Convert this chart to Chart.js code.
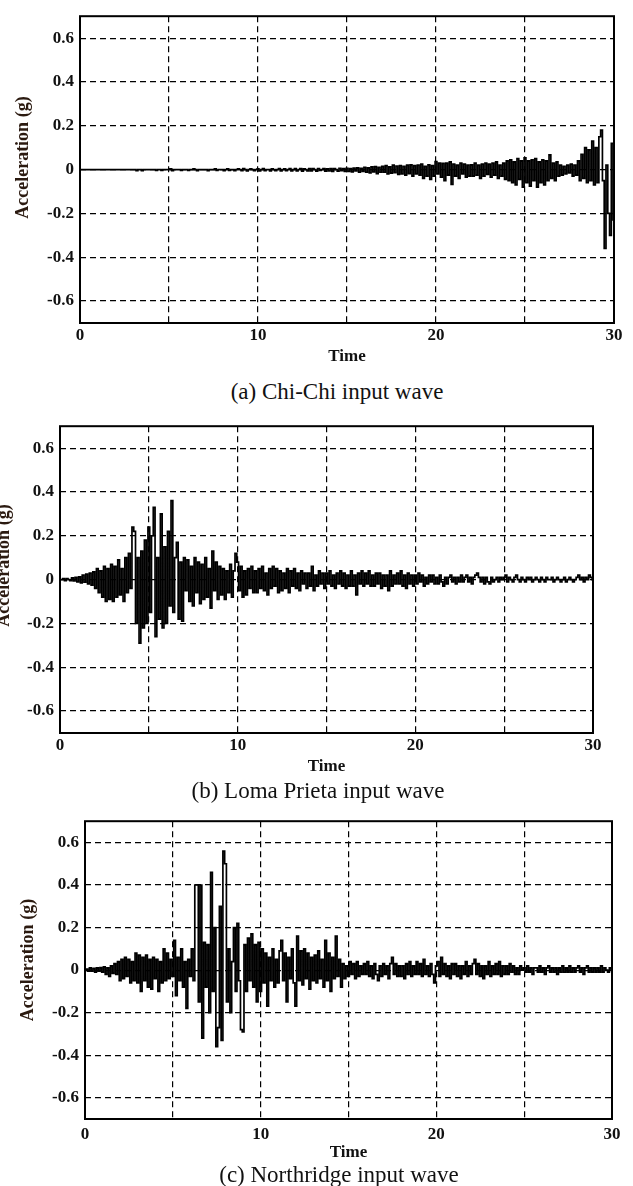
<!DOCTYPE html>
<html>
<head>
<meta charset="utf-8">
<script src="https://cdn.jsdelivr.net/npm/chart.js@4.4.1/dist/chart.umd.min.js"></script>
<style>
  html, body { margin: 0; padding: 0; background: #fff; }
  body { position: relative; width: 633px; height: 1186px; overflow: hidden; }
  canvas { position: absolute; left: 0; }
  .caption {
    position: absolute; width: 400px; text-align: center; white-space: nowrap;
    font-family: 'Liberation Serif', serif; font-size: 23px; line-height: 26px; color: #111;
  }
</style>
</head>
<body>
<canvas id="chichi" width="633" height="375" style="top:0px"></canvas>
<div class="caption" style="left:137px; top:379px">(a) Chi-Chi input wave</div>
<canvas id="loma" width="633" height="375" style="top:410px"></canvas>
<div class="caption" style="left:118px; top:778px">(b) Loma Prieta input wave</div>
<canvas id="northridge" width="633" height="366" style="top:805px"></canvas>
<div class="caption" style="left:139px; top:1162px">(c) Northridge input wave</div>

<script>
// samples are 0.1 s apart, 0 .. 30 s
const sampleStep = 0.1;

const xTicks = [0, 5, 10, 15, 20, 25, 30];
const xTickLabels = ['0', '', '10', '', '20', '', '30'];
const yTicks = [-0.6, -0.4, -0.2, 0, 0.2, 0.4, 0.6];
const yTickLabels = ['-0.6', '-0.4', '-0.2', '0', '0.2', '0.4', '0.6'];

// acceleration (g), one row per second
const chichiAcc = [
    0, 0, 0, 0, 0, 0, 0, 0, 0, 0,
    0, 0, 0, 0, 0, 0, 0, 0, 0, 0,
    0, 0, 0, 0, 0, 0, 0, 0, 0, 0,
    0, 0, -0.005, 0, 0, -0.005, 0, 0, 0, 0,
    0, 0, 0, -0.004, 0, 0, -0.004, 0, 0, 0,
    0, 0.003, -0.005, 0, 0, 0, 0, -0.004, 0, 0,
    0, -0.004, 0, 0, 0.003, 0, -0.005, 0, 0, 0,
    0, 0, -0.005, 0, 0, 0, 0.003, -0.004, 0, 0,
    0, -0.005, 0, 0.003, -0.004, 0, 0, -0.005, 0, 0.003,
    0, -0.005, 0.004, 0, -0.006, 0, 0.003, 0, -0.005, 0,
    0.003, -0.006, 0, 0.004, -0.005, 0, 0, -0.006, 0.003, 0,
    -0.005, 0, 0.004, -0.006, 0, 0.003, -0.005, 0, 0.004, -0.006,
    0, 0.005, -0.006, 0, 0.004, -0.007, 0.003, 0, -0.006, 0.004,
    -0.006, 0.004, 0, -0.007, 0.005, -0.004, 0, 0.005, -0.007, 0.003,
    -0.006, 0.005, -0.008, 0.004, 0, -0.007, 0.006, -0.005, 0.004, -0.008,
    0.006, -0.008, 0.005, -0.01, 0.007, -0.006, 0.008, -0.012, 0.006, -0.008,
    0.01, -0.012, 0.008, -0.015, 0.012, -0.01, 0.014, -0.018, 0.01, -0.012,
    0.015, -0.012, 0.018, -0.02, 0.012, -0.016, 0.02, -0.014, 0.016, -0.022,
    0.018, -0.02, 0.015, -0.025, 0.02, -0.018, 0.022, -0.03, 0.018, -0.02,
    0.02, -0.025, 0.025, -0.04, 0.015, -0.03, 0.022, -0.045, 0.018, -0.03,
    0.037, -0.02, 0.03, -0.035, 0.028, -0.05, 0.03, -0.025, 0.035, -0.068,
    0.025, -0.03, 0.02, -0.04, 0.03, -0.02, 0.025, -0.035, 0.02, -0.03,
    0.022, -0.03, 0.03, -0.025, 0.02, -0.04, 0.025, -0.03, 0.03, -0.022,
    0.025, -0.035, 0.03, -0.025, 0.035, -0.04, 0.02, -0.03, 0.03, -0.045,
    0.04, -0.05, 0.045, -0.06, 0.035, -0.07, 0.05, -0.045, 0.04, -0.08,
    0.054, -0.06, 0.04, -0.075, 0.045, -0.05, 0.05, -0.08, 0.035, -0.06,
    0.045, -0.07, 0.04, -0.05, 0.067, -0.04, 0.03, -0.05, 0.035, -0.03,
    0.02, -0.025, 0.015, -0.02, 0.02, -0.015, 0.025, -0.03, 0.02, -0.025,
    0.04, -0.05, 0.07, -0.04, 0.1, -0.06, 0.09, -0.05, 0.13, -0.07,
    0.1, -0.06, 0.15, 0.18, -0.05, -0.36, 0.02, -0.2, -0.3, 0.12,
    -0.23
];

const lomaAcc = [
    0, 0, 0.005, -0.005, 0.005, 0, -0.005, 0.008, -0.006, 0.01,
    -0.01, 0.012, -0.015, 0.02, -0.012, 0.025, -0.02, 0.03, -0.025, 0.035,
    -0.04, 0.05, -0.06, 0.04, -0.08, 0.06, -0.1, 0.05, -0.09, 0.07,
    -0.1, 0.06, -0.08, 0.09, -0.07, 0.05, -0.1, 0.1, -0.06, 0.12,
    -0.04, 0.24, 0.22, -0.2, 0.1, -0.29, 0.13, -0.22, 0.18, -0.2,
    0.24, -0.15, 0.2, 0.33, -0.26, 0.1, -0.18, 0.3, -0.22, 0.15,
    -0.2, 0.22, -0.12, 0.36, -0.15, 0.1, 0.17, -0.18, 0.08, -0.19,
    0.1, -0.05, 0.09, -0.1, 0.06, -0.12, 0.1, -0.06, 0.08, -0.11,
    0.07, -0.09, 0.1, -0.08, 0.05, -0.13, 0.13, -0.05, 0.08, -0.09,
    0.06, -0.07, 0.05, -0.09, 0.04, -0.06, 0.07, -0.08, 0.04, 0.12,
    0.08, -0.05, 0.06, -0.08, 0.04, -0.07, 0.05, -0.04, 0.06, -0.06,
    0.04, -0.06, 0.05, -0.04, 0.06, -0.05, 0.03, -0.07, 0.05, -0.04,
    0.06, -0.03, 0.05, -0.06, 0.04, -0.05, 0.03, -0.04, 0.05, -0.06,
    0.04, -0.03, 0.05, -0.04, 0.03, -0.05, 0.04, -0.02, 0.03, -0.04,
    0.03, -0.03, 0.06, -0.05, 0.02, -0.03, 0.04, -0.02, 0.03, -0.04,
    0.03, -0.02, 0.04, -0.03, 0.02, -0.04, 0.03, -0.02, 0.04, -0.03,
    0.03, -0.04, 0.02, -0.03, 0.04, -0.03, 0.02, -0.07, 0.03, -0.02,
    0.04, -0.03, 0.03, -0.02, 0.04, -0.03, 0.02, -0.03, 0.03, -0.02,
    0.03, -0.04, 0.02, -0.03, 0.02, -0.05, 0.04, -0.03, 0.02, -0.02,
    0.03, -0.02, 0.04, -0.03, 0.02, -0.04, 0.03, -0.02, 0.02, -0.03,
    0.02, -0.02, 0.03, -0.01, 0.02, -0.03, 0.01, -0.02, 0.02, -0.01,
    0.02, -0.02, 0.01, -0.02, 0.02, -0.01, -0.03, 0.01, -0.02, 0.01,
    0.02, -0.01, 0.01, -0.02, 0.01, -0.01, 0.02, -0.01, 0.01, 0.02,
    -0.01, 0.01, -0.02, 0.01, 0.02, 0.03, 0.01, -0.01, 0.01, -0.02,
    0.01, -0.01, -0.02, 0.01, -0.01, 0, 0.01, -0.01, 0.01, 0,
    0.01, 0.02, -0.01, 0.01, 0, -0.01, 0.01, 0.02, 0, -0.01,
    0.01, 0, -0.01, 0.01, 0, 0.01, -0.01, 0, 0.01, 0,
    -0.01, 0.01, 0, -0.01, 0.01, 0, 0, 0.01, -0.01, 0,
    0.01, 0, -0.01, 0, 0.01, -0.01, 0, 0.01, 0, -0.01,
    0, 0.01, 0.02, 0, 0.01, -0.01, 0.01, 0, 0.02, 0.01,
    0
];

const northridgeAcc = [
    0, 0.005, -0.005, 0.01, -0.005, 0.008, -0.01, 0.01, -0.005, 0.012,
    -0.01, 0.015, -0.02, 0.01, -0.03, 0.02, -0.015, 0.03, -0.02, 0.04,
    -0.05, 0.05, -0.04, 0.06, -0.03, 0.05, -0.06, 0.04, -0.05, 0.08,
    -0.06, 0.07, -0.1, 0.06, -0.05, 0.07, -0.08, 0.05, -0.09, 0.06,
    -0.04, 0.05, -0.1, 0.04, -0.06, 0.1, -0.05, 0.08, -0.04, 0.05,
    -0.03, 0.14, -0.12, 0.06, -0.05, 0.1, -0.08, 0.04, -0.18, 0.05,
    -0.03, 0.1, -0.05, 0.4, 0.4, -0.15, 0.4, -0.32, 0.13, -0.08,
    0.12, -0.2, 0.46, -0.1, 0.2, -0.36, -0.27, 0.3, -0.33, 0.56,
    0.5, -0.15, 0.1, -0.2, 0.04, 0.2, -0.1, 0.22, -0.05, -0.28,
    -0.29, 0.12, -0.1, 0.15, -0.05, 0.17, -0.08, 0.12, -0.15, 0.13,
    -0.1, 0.1, -0.06, 0.08, -0.17, 0.06, -0.05, 0.1, -0.08, 0.05,
    -0.06, 0.09, 0.14, -0.05, 0.08, -0.15, 0.06, -0.04, 0.1, -0.06,
    -0.17, 0.16, -0.05, 0.09, -0.07, 0.1, -0.04, 0.08, -0.09, 0.06,
    -0.05, 0.07, -0.06, 0.09, -0.04, 0.05, -0.08, 0.14, -0.05, 0.08,
    -0.1, 0.06, -0.04, 0.16, -0.03, 0.05, -0.08, 0.03, -0.04, 0.02,
    -0.03, 0.04, -0.02, 0.03, -0.04, 0.04, -0.03, 0.02, -0.02, 0.03,
    -0.02, 0.04, -0.03, 0.02, -0.04, 0.03, -0.02, -0.05, 0.02, -0.03,
    0.03, -0.02, 0.02, -0.04, 0.03, 0.06, -0.02, 0.03, -0.03, 0.02,
    -0.03, 0.02, -0.04, 0.03, -0.02, 0.04, -0.03, 0.02, -0.02, 0.04,
    -0.02, 0.03, -0.03, 0.05, -0.02, 0.02, -0.03, 0.03, -0.02, -0.06,
    0.02, 0.04, -0.03, 0.06, -0.02, 0.03, -0.03, 0.02, -0.04, 0.03,
    -0.02, 0.03, -0.03, 0.02, -0.04, 0.02, -0.02, 0.04, -0.03, 0.02,
    -0.02, 0.03, 0.05, -0.02, 0.03, -0.03, 0.02, -0.04, 0.02, -0.02,
    0.04, -0.03, 0.02, -0.02, 0.03, -0.02, 0.04, -0.03, 0.02, -0.02,
    0.02, -0.02, 0.03, -0.01, 0.02, -0.02, 0.01, -0.02, 0.02, 0,
    0.01, -0.01, 0.02, -0.01, 0.01, -0.02, 0.01, 0.01, -0.01, 0.02,
    -0.01, 0.01, -0.02, 0.01, 0.02, -0.01, 0.01, -0.01, 0.01, -0.02,
    0.01, -0.01, 0.02, -0.01, 0.01, -0.01, 0.02, -0.01, 0.01, -0.01,
    0.01, 0.02, -0.01, 0.01, -0.02, 0.01, 0.02, -0.01, 0.01, -0.01,
    0.01, -0.01, 0.01, -0.01, 0.02, -0.01, 0.01, 0, -0.01, 0.01,
    0
];

const serif = 'Liberation Serif';

// solid box round the plot area
const frame = {
    id: 'frame',
    afterDraw: (chart) => {
        const { ctx, chartArea: a } = chart;
        ctx.save();
        ctx.strokeStyle = '#000';
        ctx.lineWidth = 2;
        ctx.setLineDash([]);
        ctx.strokeRect(a.left, a.top, a.right - a.left, a.bottom - a.top);
        ctx.restore();
    }
};

// rotated y title, sits a little above the middle like the original
const yTitle = {
    id: 'yTitle',
    afterDraw: (chart, args, opts) => {
        const { ctx, chartArea: a } = chart;
        ctx.save();
        ctx.translate(opts.x, (a.top + a.bottom) / 2 + opts.shift);
        ctx.rotate(-Math.PI / 2);
        ctx.font = `bold 18px "${serif}"`;
        ctx.fillStyle = '#2b1a10';
        ctx.textAlign = 'center';
        ctx.textBaseline = 'middle';
        ctx.fillText('Acceleration (g)', 0, 0);
        ctx.restore();
    }
};

function makeChart(id, values, box) {
    const ctx = document.getElementById(id).getContext('2d');
    const tickFont = { family: serif, size: 17, weight: 'bold' };
    return new Chart(ctx, {
        type: 'line',
        data: {
            datasets: [{
                data: values.map((v, i) => ({ x: i * sampleStep, y: v })),
                borderColor: '#000',
                borderWidth: 1.7,
                stepped: 'middle',
                pointRadius: 0,
                fill: false
            }]
        },
        options: {
            responsive: false,
            animation: false,
            devicePixelRatio: 1,
            layout: { padding: { top: 9, right: box.right, left: 0, bottom: 0 } },
            plugins: {
                legend: { display: false },
                tooltip: { enabled: false },
                yTitle: { x: box.titleX, shift: box.titleShift }
            },
            scales: {
                x: {
                    type: 'linear', min: 0, max: 30,
                    afterBuildTicks: s => { s.ticks = xTicks.map(v => ({ value: v })); },
                    afterFit: s => { s.height = 52; },
                    ticks: {
                        padding: box.xPad, maxRotation: 0, autoSkip: false, color: '#111', font: tickFont,
                        callback: (v, i) => xTickLabels[i]
                    },
                    grid: { color: '#000', lineWidth: 1.2, drawTicks: false },
                    border: { display: false, dash: [6, 4] },
                    title: {
                        display: true, text: 'Time', color: '#111',
                        font: { family: serif, size: 17, weight: 'bold', lineHeight: 1 },
                        padding: { top: 0, bottom: 10 }
                    }
                },
                y: {
                    type: 'linear', min: -0.7, max: 0.7,
                    afterBuildTicks: s => { s.ticks = yTicks.map(v => ({ value: v })); },
                    afterFit: s => { s.width = box.left; },
                    ticks: {
                        padding: 6, autoSkip: false, color: '#111', font: tickFont,
                        callback: (v, i) => yTickLabels[i]
                    },
                    grid: { color: '#000', lineWidth: 1.2, drawTicks: false },
                    border: { display: false, dash: [6, 4] }
                }
            }
        },
        plugins: [frame, yTitle]
    });
}

makeChart('chichi', chichiAcc, { left: 80, right: 19, titleX: 23, titleShift: -12, xPad: 2 });
makeChart('loma', lomaAcc, { left: 60, right: 40, titleX: 4, titleShift: -14, xPad: 2 });
makeChart('northridge', northridgeAcc, { left: 85, right: 21, titleX: 28, titleShift: -10, xPad: 5 });
</script>
</body>
</html>
